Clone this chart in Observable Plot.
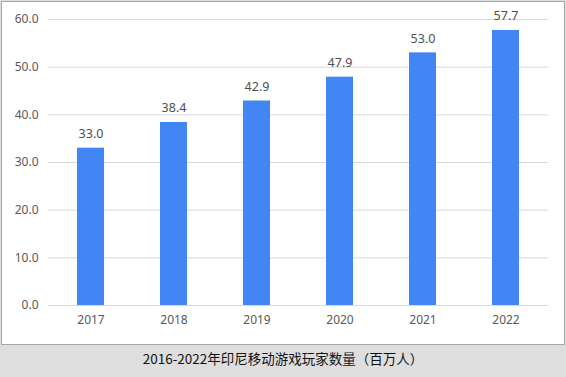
<!DOCTYPE html>
<html><head><meta charset="utf-8">
<script src="https://cdn.jsdelivr.net/npm/d3@7"></script>
<script src="https://cdn.jsdelivr.net/npm/@observablehq/plot@0.6"></script>
<style>
html,body{margin:0;padding:0;background:#dedede;}
#wrap{position:relative;width:566px;height:377px;background:#dedede;overflow:hidden;}
#box{position:absolute;left:1px;top:1px;width:562px;height:342px;border:1px solid #a6a6a6;background:#fff;}
#cap{position:absolute;left:0;top:347px;width:566px;text-align:center;font-family:"Noto Sans CJK SC","Noto Sans",sans-serif;font-size:13.5px;color:#111;line-height:22px;}
</style></head>
<body><div id="wrap"><div id="box"></div><div id="cap">2016-2022年印尼移动游戏玩家数量（百万人）</div></div>
<script>
const years = ["2017","2018","2019","2020","2021","2022"];
const players = [33.0, 38.4, 42.9, 47.9, 53.0, 57.7];
const yTicks = [0,10,20,30,40,50,60];
const data = years.map((y,i)=>({year:y, value:players[i]}));
const chart = Plot.plot({
  width:562, height:342,
  marginLeft:46, marginRight:16, marginTop:17, marginBottom:39,
  style:{fontFamily:"'Noto Sans','DejaVu Sans',sans-serif", fontSize:"12px", color:"#595959", background:"#fff"},
  x:{domain:years, paddingInner:0.675, paddingOuter:0.3375, label:null, tickSize:0, tickPadding:10},
  y:{domain:[0,60], ticks:yTicks, tickFormat:d=>d.toFixed(1), label:null, tickSize:0, tickPadding:10},
  marks:[
    Plot.gridY(yTicks,{stroke:"#d9d9d9", strokeOpacity:1}),
    Plot.barY(data,{x:"year", y:"value", fill:"#4285f4"}),
    Plot.text(data,{x:"year", y:"value", text:d=>d.value.toFixed(1), dy:-10, lineAnchor:"bottom", fill:"#505050", fontSize:12.5})
  ]
});
document.getElementById("box").appendChild(chart);
</script></body></html>
